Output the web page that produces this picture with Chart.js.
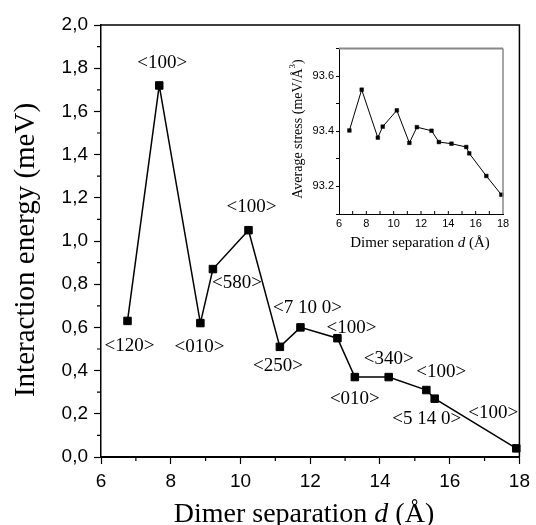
<!DOCTYPE html>
<html>
<head>
<meta charset="utf-8">
<script src="https://cdn.jsdelivr.net/npm/chart.js@4/dist/chart.umd.min.js"></script>
<style>
  html, body { margin: 0; padding: 0; background: #fff; }
  #wrap { position: relative; width: 536px; height: 525px; }
  #main { position: absolute; left: 0; top: 0; }
  #inset { position: absolute; left: 280px; top: 40px; }
</style>
</head>
<body>
<div id="wrap">
  <canvas id="main" width="536" height="525"></canvas>
  <canvas id="inset" width="240" height="220"></canvas>
</div>
<script>
// main plot: interaction energy vs dimer separation
const energyX = [6.76, 7.67, 8.85, 9.21, 10.23, 11.13, 11.72, 12.78, 13.28, 14.25, 15.33, 15.57, 17.91]
const energyY = [0.63, 1.72, 0.62, 0.87, 1.05, 0.51, 0.60, 0.55, 0.37, 0.37, 0.31, 0.27, 0.04]
const directions = ['<120>', '<100>', '<010>', '<580>', '<100>', '<250>', '<7 10 0>', '<100>', '<010>', '<340>', '<100>', '<5 14 0>', '<100>']

// inset: average stress
const stressX = [6.76, 7.66, 8.84, 9.20, 10.23, 11.15, 11.70, 12.77, 13.31, 14.23, 15.31, 15.53, 16.78, 17.88]
const stressY = [93.403, 93.551, 93.377, 93.417, 93.476, 93.358, 93.415, 93.402, 93.361, 93.355, 93.343, 93.320, 93.238, 93.170]

const xMinor = [7, 9, 11, 13, 15, 17]
const yMinor = [0.1, 0.3, 0.5, 0.7, 0.9, 1.1, 1.3, 1.5, 1.7, 1.9]

// label placement relative to each point (px)
const labelOffsets = [[2, 25], [3, -22], [-1, 24], [24, 14], [3, -23], [-2, 19], [7, -19], [14, -10], [0, 22], [0, -18], [15, -18], [-8, 20], [-23, -35]]

const SANS = "'Liberation Sans', Arial, sans-serif"
const SERIF = "'Liberation Serif', 'Times New Roman', serif"

function toPoints(xs, ys) {
  return xs.map((x, i) => ({ x, y: ys[i] }))
}

function drawTitleX(ctx, cx, baseline, size) {
  const parts = [
    ['Dimer separation ', `${size}px ${SERIF}`],
    ['d', `italic ${size}px ${SERIF}`],
    [' (Å)', `${size}px ${SERIF}`]
  ]
  let total = 0
  parts.forEach(p => { ctx.font = p[1]; total += ctx.measureText(p[0]).width })
  let x = cx - total / 2
  ctx.textAlign = 'left'
  ctx.textBaseline = 'alphabetic'
  parts.forEach(p => {
    ctx.font = p[1]
    ctx.fillText(p[0], x, baseline)
    x += ctx.measureText(p[0]).width
  })
}

const mainDecor = {
  id: 'mainDecor',
  afterDraw(chart) {
    const { ctx, chartArea: a, scales: { x, y } } = chart
    ctx.save()
    ctx.strokeStyle = '#000'
    // frame top + right
    ctx.lineWidth = 1.5
    ctx.beginPath()
    ctx.moveTo(a.left, a.top)
    ctx.lineTo(a.right, a.top)
    ctx.lineTo(a.right, a.bottom)
    ctx.stroke()
    // minor ticks
    ctx.lineWidth = 1.2
    ctx.beginPath()
    xMinor.forEach(v => {
      const px = x.getPixelForValue(v)
      ctx.moveTo(px, a.bottom)
      ctx.lineTo(px, a.bottom + 4)
    })
    yMinor.forEach(v => {
      const py = y.getPixelForValue(v)
      ctx.moveTo(a.left, py)
      ctx.lineTo(a.left - 4, py)
    })
    ctx.stroke()
    // direction labels
    ctx.fillStyle = '#000'
    ctx.font = `19px ${SERIF}`
    ctx.textAlign = 'center'
    ctx.textBaseline = 'middle'
    directions.forEach((t, i) => {
      const px = x.getPixelForValue(energyX[i]) + labelOffsets[i][0]
      const py = y.getPixelForValue(energyY[i]) + labelOffsets[i][1]
      ctx.fillText(t, px, py)
    })
    // axis titles
    drawTitleX(ctx, 304, 522, 28)
    ctx.translate(34, 250)
    ctx.rotate(-Math.PI / 2)
    ctx.font = `29px ${SERIF}`
    ctx.textAlign = 'center'
    ctx.textBaseline = 'alphabetic'
    ctx.fillText('Interaction energy (meV)', 0, 0)
    ctx.restore()
  }
}

const insetDecor = {
  id: 'insetDecor',
  afterDraw(chart) {
    const { ctx, chartArea: a, scales: { x } } = chart
    ctx.save()
    ctx.strokeStyle = '#888'
    ctx.lineWidth = 2
    ctx.beginPath()
    ctx.moveTo(a.left, a.top)
    ctx.lineTo(a.right, a.top)
    ctx.stroke()
    ctx.lineWidth = 1.5
    ctx.beginPath()
    ctx.moveTo(a.right, a.top)
    ctx.lineTo(a.right, a.bottom)
    ctx.stroke()
    // inward x ticks
    ctx.strokeStyle = '#000'
    ctx.lineWidth = 1
    ctx.beginPath()
    for (let v = 7; v < 18; v++) {
      const px = x.getPixelForValue(v)
      ctx.moveTo(px, a.bottom)
      ctx.lineTo(px, a.bottom - 3)
    }
    ctx.stroke()
    ctx.fillStyle = '#000'
    drawTitleX(ctx, 140, 207, 15)
    ctx.translate(22, 89)
    ctx.rotate(-Math.PI / 2)
    ctx.font = `14px ${SERIF}`
    ctx.textBaseline = 'alphabetic'
    const t1 = 'Average stress (meV/Å'
    const w1 = ctx.measureText(t1).width
    ctx.font = `9px ${SERIF}`
    const w2 = ctx.measureText('3').width
    ctx.font = `14px ${SERIF}`
    const w3 = ctx.measureText(')').width
    let sx = -(w1 + w2 + w3) / 2
    ctx.textAlign = 'left'
    ctx.fillText(t1, sx, 0)
    sx += w1
    ctx.font = `9px ${SERIF}`
    ctx.fillText('3', sx, -7)
    sx += w2
    ctx.font = `14px ${SERIF}`
    ctx.fillText(')', sx, 0)
    ctx.restore()
  }
}

new Chart(document.getElementById('main'), {
  type: 'line',
  data: {
    datasets: [{
      data: toPoints(energyX, energyY),
      borderColor: '#000',
      borderWidth: 1.5,
      backgroundColor: '#000',
      pointStyle: 'rect',
      pointRadius: 5.3,
      pointBorderWidth: 1,
      tension: 0,
      clip: false
    }]
  },
  options: {
    responsive: false,
    animation: false,
    layout: { padding: { top: 25, right: 12, left: 0, bottom: 0 } },
    plugins: { legend: { display: false }, tooltip: { enabled: false } },
    scales: {
      x: {
        type: 'linear',
        min: 6,
        max: 18,
        afterFit: s => { s.height = 68 },
        ticks: { stepSize: 2, color: '#000', font: { family: SANS, size: 19 }, padding: 6 },
        grid: { drawOnChartArea: false, color: '#000', tickLength: 7, tickWidth: 1.2 },
        border: { color: '#000', width: 2 }
      },
      y: {
        min: 0,
        max: 2,
        afterFit: s => { s.width = 101 },
        ticks: {
          stepSize: 0.2,
          color: '#000',
          font: { family: SANS, size: 19 },
          padding: 6,
          callback: v => v.toFixed(1).replace('.', ',')
        },
        grid: { drawOnChartArea: false, color: '#000', tickLength: 7, tickWidth: 1.2 },
        border: { color: '#000', width: 1.5 }
      }
    }
  },
  plugins: [mainDecor]
})

new Chart(document.getElementById('inset'), {
  type: 'line',
  data: {
    datasets: [{
      data: toPoints(stressX, stressY),
      borderColor: '#000',
      borderWidth: 1,
      backgroundColor: '#000',
      pointStyle: 'rect',
      pointRadius: 2.6,
      pointBorderWidth: 0.5,
      tension: 0,
      clip: false
    }]
  },
  options: {
    responsive: false,
    animation: false,
    layout: { padding: { top: 8, right: 17, left: 0, bottom: 0 } },
    plugins: { legend: { display: false }, tooltip: { enabled: false } },
    scales: {
      x: {
        type: 'linear',
        min: 6,
        max: 18,
        afterFit: s => { s.height = 46 },
        ticks: { stepSize: 2, color: '#000', font: { family: SANS, size: 11 }, padding: 3 },
        grid: { display: false, drawTicks: false },
        border: { color: '#000', width: 1 }
      },
      y: {
        min: 93.1,
        max: 93.7,
        afterFit: s => { s.width = 59 },
        ticks: {
          stepSize: 0.1,
          color: '#000',
          font: { family: SANS, size: 11 },
          padding: 2,
          callback: v => (Math.round(v * 10) % 2 === 0 ? v.toFixed(1) : '')
        },
        grid: { drawOnChartArea: false, color: '#000', tickLength: 3, tickWidth: 1 },
        border: { color: '#000', width: 1 }
      }
    }
  },
  plugins: [insetDecor]
})
</script>
</body>
</html>
